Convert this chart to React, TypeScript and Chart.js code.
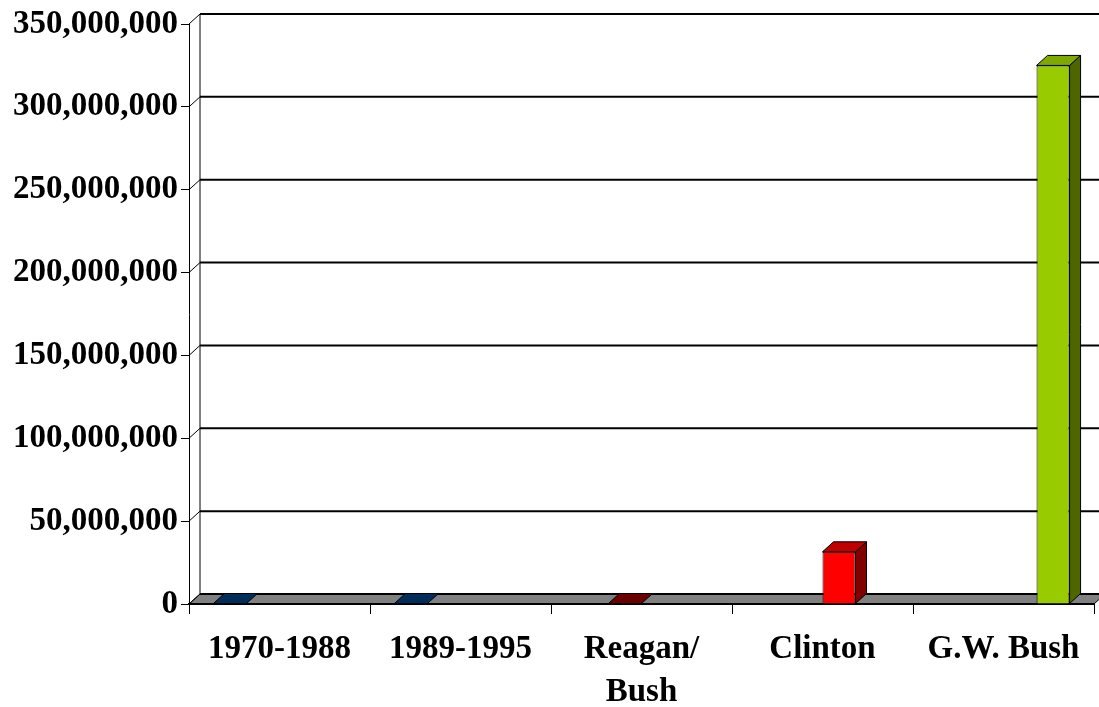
import React, { useEffect, useRef } from "react";
import { Chart, registerables } from "chart.js";

Chart.register(...registerables);

const categories: (string | string[])[] = [
  "1970-1988",
  "1989-1995",
  ["Reagan/", "Bush"],
  "Clinton",
  "G.W. Bush",
];

const seriesNavy: (number | null)[] = [300000, 300000, null, null, null];
const seriesMaroon: (number | null)[] = [null, null, 300000, null, null];
const seriesRed: (number | null)[] = [null, null, null, 31500000, null];
const seriesGreen: (number | null)[] = [null, null, null, null, 325000000];

const yMin = 0;
const yMax = 350000000;
const yStep = 50000000;

const frontColors = ["#003366", "#800000", "#FF0000", "#99CC00"];
const topColors = ["#002d5a", "#6a0000", "#C00000", "#7fa800"];
const sideColors = ["#001a33", "#400000", "#800000", "#4d6600"];

const DX = 11;
const DY = -10;
const FONT = '"Liberation Serif", "Times New Roman", serif';

const depthPlugin = {
  id: "depth3d",
  beforeDatasetsDraw(chart: any) {
    const { ctx, chartArea: a, scales } = chart;
    const y = scales.y;
    ctx.save();
    // floor
    ctx.fillStyle = "#808080";
    ctx.beginPath();
    ctx.moveTo(a.left, a.bottom);
    ctx.lineTo(a.right, a.bottom);
    ctx.lineTo(a.right + DX, a.bottom + DY);
    ctx.lineTo(a.left + DX, a.bottom + DY);
    ctx.closePath();
    ctx.fill();
    ctx.strokeStyle = "#000";
    ctx.lineWidth = 1;
    ctx.stroke();
    // back wall left edge
    ctx.beginPath();
    ctx.moveTo(a.left + DX, y.getPixelForValue(yMax) + DY);
    ctx.lineTo(a.left + DX, a.bottom + DY);
    ctx.stroke();
    // gridlines on back wall and diagonal connectors
    y.ticks.forEach((t: any) => {
      const py = y.getPixelForValue(t.value);
      ctx.lineWidth = 1;
      ctx.beginPath();
      ctx.moveTo(a.left, py);
      ctx.lineTo(a.left + DX, py + DY);
      ctx.stroke();
      ctx.lineWidth = 2;
      ctx.beginPath();
      ctx.moveTo(a.left + DX, py + DY);
      ctx.lineTo(a.right + DX, py + DY);
      ctx.stroke();
    });
    // front floor edge
    ctx.lineWidth = 2;
    ctx.beginPath();
    ctx.moveTo(a.left, a.bottom);
    ctx.lineTo(a.right, a.bottom);
    ctx.stroke();
    ctx.restore();
  },
  afterDatasetsDraw(chart: any) {
    const { ctx } = chart;
    ctx.save();
    ctx.strokeStyle = "#000";
    ctx.lineWidth = 1;
    ctx.lineJoin = "round";
    chart.data.datasets.forEach((ds: any, i: number) => {
      const meta = chart.getDatasetMeta(i);
      meta.data.forEach((el: any, j: number) => {
        if (ds.data[j] == null) return;
        const { x, y, base, width } = el.getProps(["x", "y", "base", "width"], true);
        const x0 = x - width / 2;
        const x1 = x + width / 2;
        const top = Math.min(y, base);
        // side face
        if (base - top > 1) {
          ctx.fillStyle = sideColors[i];
          ctx.beginPath();
          ctx.moveTo(x1, top);
          ctx.lineTo(x1 + DX, top + DY);
          ctx.lineTo(x1 + DX, base + DY);
          ctx.lineTo(x1, base);
          ctx.closePath();
          ctx.fill();
          ctx.stroke();
        }
        // top face
        ctx.fillStyle = topColors[i];
        ctx.beginPath();
        ctx.moveTo(x0, top);
        ctx.lineTo(x1, top);
        ctx.lineTo(x1 + DX, top + DY);
        ctx.lineTo(x0 + DX, top + DY);
        ctx.closePath();
        ctx.fill();
        ctx.stroke();
      });
    });
    ctx.restore();
  },
};

export default function App() {
  const ref = useRef<HTMLCanvasElement | null>(null);

  useEffect(() => {
    if (!ref.current) return;
    const allSeries = [seriesNavy, seriesMaroon, seriesRed, seriesGreen];
    const chart = new Chart(ref.current, {
      type: "bar",
      data: {
        labels: categories as any,
        datasets: allSeries.map((s, i) => ({
          label: "Series " + (i + 1),
          data: s,
          backgroundColor: frontColors[i],
          borderColor: "#000",
          borderWidth: (c: any) => (c.raw != null && c.raw > 1000000 ? 1 : 0),
          categoryPercentage: 0.73,
          barPercentage: 1.0,
        })),
      },
      options: {
        responsive: false,
        animation: false,
        layout: { padding: { top: 24, right: 5, left: 0, bottom: 0 } },
        plugins: {
          legend: { display: false },
          tooltip: { enabled: false },
        },
        scales: {
          x: {
            grid: {
              display: true,
              drawOnChartArea: false,
              drawTicks: true,
              tickLength: 10,
              color: "#000",
              lineWidth: 1,
              offset: true,
            },
            border: { display: true, color: "#000", width: 2 },
            ticks: {
              color: "#000",
              font: { family: FONT, size: 33, weight: "bold", lineHeight: 1.3 },
              padding: 14,
              maxRotation: 0,
              autoSkip: false,
            },
            afterFit: (s: any) => {
              s.height = 103;
            },
          },
          y: {
            min: yMin,
            max: yMax,
            grid: {
              display: true,
              drawOnChartArea: false,
              drawTicks: true,
              tickLength: 8,
              color: "#000",
              lineWidth: 1,
            },
            border: { display: true, color: "#000", width: 1 },
            ticks: {
              stepSize: yStep,
              color: "#000",
              font: { family: FONT, size: 33, weight: "bold" },
              padding: 3,
              callback: (v: any) => Number(v).toLocaleString("en-US"),
            },
            afterFit: (s: any) => {
              s.width = 189;
            },
          },
        },
      } as any,
      plugins: [depthPlugin],
    });
    return () => chart.destroy();
  }, []);

  return (
    <div style={{ position: "fixed", left: 0, top: 0, width: 1099, height: 707, background: "#fff" }}>
      <canvas ref={ref} width={1099} height={707} style={{ display: "block" }} />
    </div>
  );
}
